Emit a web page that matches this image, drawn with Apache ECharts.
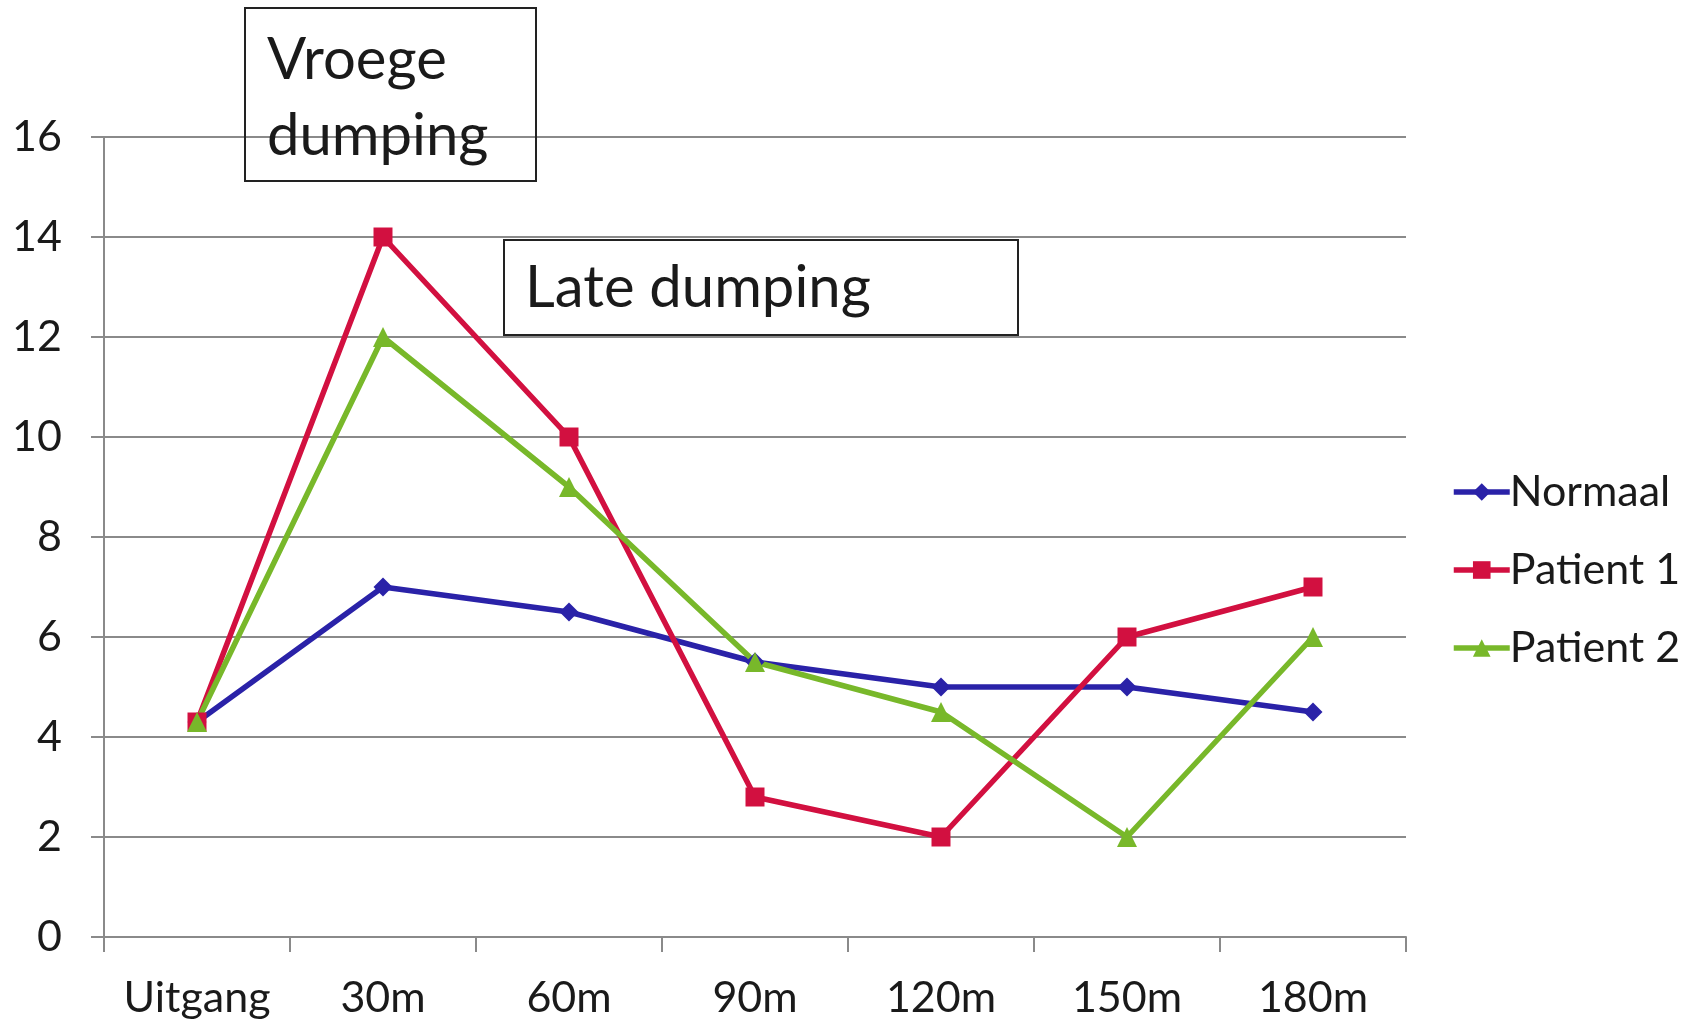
<!DOCTYPE html>
<html><head><meta charset="utf-8">
<script src="https://cdn.jsdelivr.net/npm/echarts@6/dist/echarts.min.js"></script>
<style>html,body{margin:0;padding:0;background:#fff}#c{width:1702px;height:1023px}</style>
</head><body><div id="c"></div>
<script>
const categories = ['Uitgang','30m','60m','90m','120m','150m','180m'];
const normaal = [4.3, 7, 6.5, 5.5, 5, 5, 4.5];
const patient1 = [4.3, 14, 10, 2.8, 2, 6, 7];
const patient2 = [4.3, 12, 9, 5.5, 4.5, 2, 6];
const seriesNames = ['Normaal','Patient 1','Patient 2'];
const yTicks = {min:0, max:16, interval:2};

const FONT = 'Lato';
const chart = echarts.init(document.getElementById('c'), null, {renderer:'canvas'});
function line(name, data, color, symbol, size){
  return {name, type:'line', data, symbol, symbolSize:size, showSymbol:true,
    lineStyle:{color, width:5.5}, itemStyle:{color}, z:3, animation:false};
}
chart.setOption({
  animation:false,
  backgroundColor:'#fff',
  grid:{left:104, right:296, top:137, bottom:86, containLabel:false},
  xAxis:{type:'category', data:categories, boundaryGap:true,
    axisLine:{lineStyle:{color:'#8a8a8a', width:2}},
    axisTick:{show:true, length:15, interval:0, lineStyle:{color:'#8a8a8a', width:2}},
    axisLabel:{color:'#1a1a1a', fontSize:43, fontFamily:FONT, margin:40, interval:0}},
  yAxis:{type:'value', min:yTicks.min, max:yTicks.max, interval:yTicks.interval,
    axisLine:{show:true, lineStyle:{color:'#8a8a8a', width:2}},
    axisTick:{show:true, length:13, lineStyle:{color:'#8a8a8a', width:2}},
    splitLine:{show:true, lineStyle:{color:'#8a8a8a', width:2}},
    axisLabel:{color:'#1a1a1a', fontSize:43, fontFamily:FONT, margin:42}},
  legend:{orient:'vertical', left:1446, top:462, itemWidth:56, itemHeight:22, itemGap:28,
    data:seriesNames,
    lineStyle:{width:5.5},
    textStyle:{fontSize:43, fontFamily:FONT, color:'#1a1a1a', lineHeight:50, padding:[0,0,0,-5]}},
  series:[
    line(seriesNames[0], normaal, '#2a22a8', 'diamond', 19),
    line(seriesNames[1], patient1, '#d21040', 'rect', 19),
    line(seriesNames[2], patient2, '#78b82a', 'triangle', 20)
  ],
  graphic:[
    {type:'rect', shape:{x:245, y:8, width:291, height:173}, style:{fill:'rgba(255,255,255,0)', stroke:'#222', lineWidth:2}, z:10},
    {type:'text', left:267, top:22, style:{text:'Vroege\ndumping', font:'58px '+FONT, fill:'#1a1a1a', lineHeight:76}, z:11},
    {type:'rect', shape:{x:504, y:240, width:514, height:95}, style:{fill:'#fff', stroke:'#222', lineWidth:2}, z:10},
    {type:'text', left:525, top:255, style:{text:'Late dumping', font:'58px '+FONT, fill:'#1a1a1a', lineHeight:66}, z:11}
  ]
});
</script></body></html>
